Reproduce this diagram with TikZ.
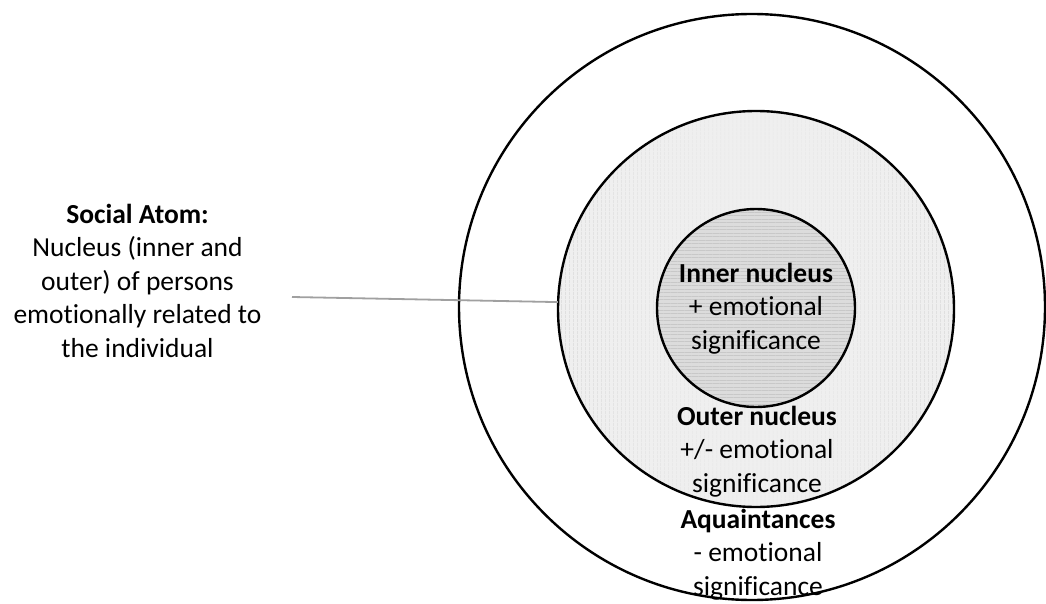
\documentclass[tikz,border=0pt]{standalone}
\usepackage{fontspec}
\setmainfont{Carlito}[Ligatures=NoCommon]
\usetikzlibrary{patterns.meta}
\definecolor{midfill}{HTML}{EFEFEF}
\definecolor{midline}{HTML}{D6D6D6}
\definecolor{innfill}{HTML}{DCDCDC}
\definecolor{innline}{HTML}{C8C8C8}
\definecolor{leadgray}{HTML}{A0A0A0}
\tikzset{
  ring/.style={circle, draw=black, line width=2.4pt, inner sep=0pt},
  txt/.style={align=center, font=\fontsize{27.5}{33.5}\selectfont, inner sep=0pt, text=black},
  lead/.style={draw=leadgray, line width=1.8pt}
}
\begin{document}
\begin{tikzpicture}[x=1pt, y=-1pt]
\useasboundingbox (0,0) rectangle (1046,604);
% acquaintance ring
\node[ring, minimum size=586pt] (outer) at (752,307) {};
% outer nucleus, vertical hatching over a light fill
\node[ring, minimum size=396pt, preaction={fill=midfill},
      pattern={Lines[angle=90,distance=4pt,line width=0.7pt]}, pattern color=midline]
      (middle) at (756,309) {};
% inner nucleus, horizontal hatching over a darker fill
\node[ring, minimum size=198pt, preaction={fill=innfill},
      pattern={Lines[angle=0,distance=3.5pt,line width=0.7pt]}, pattern color=innline]
      (inner) at (756,308) {};
% labels (base anchor sits on the last line)
\node[txt, anchor=base] (tin) at (756,349) {\textbf{Inner nucleus}\\+ emotional\\significance};
\node[txt, anchor=base] (tout) at (757,492) {\textbf{Outer nucleus}\\+/- emotional\\significance};
\node[txt, anchor=base] (tacq) at (758,595) {\textbf{Aquaintances}\\- emotional\\significance};
\node[txt, anchor=base] (atom) at (137.5,357) {\textbf{Social Atom:}\\Nucleus (inner and\\outer) of persons\\emotionally related to\\the individual};
% leader line to the nucleus
\coordinate (leadstart) at (292,297);
\draw[lead] (leadstart) -- (middle.178);
\end{tikzpicture}
\end{document}
